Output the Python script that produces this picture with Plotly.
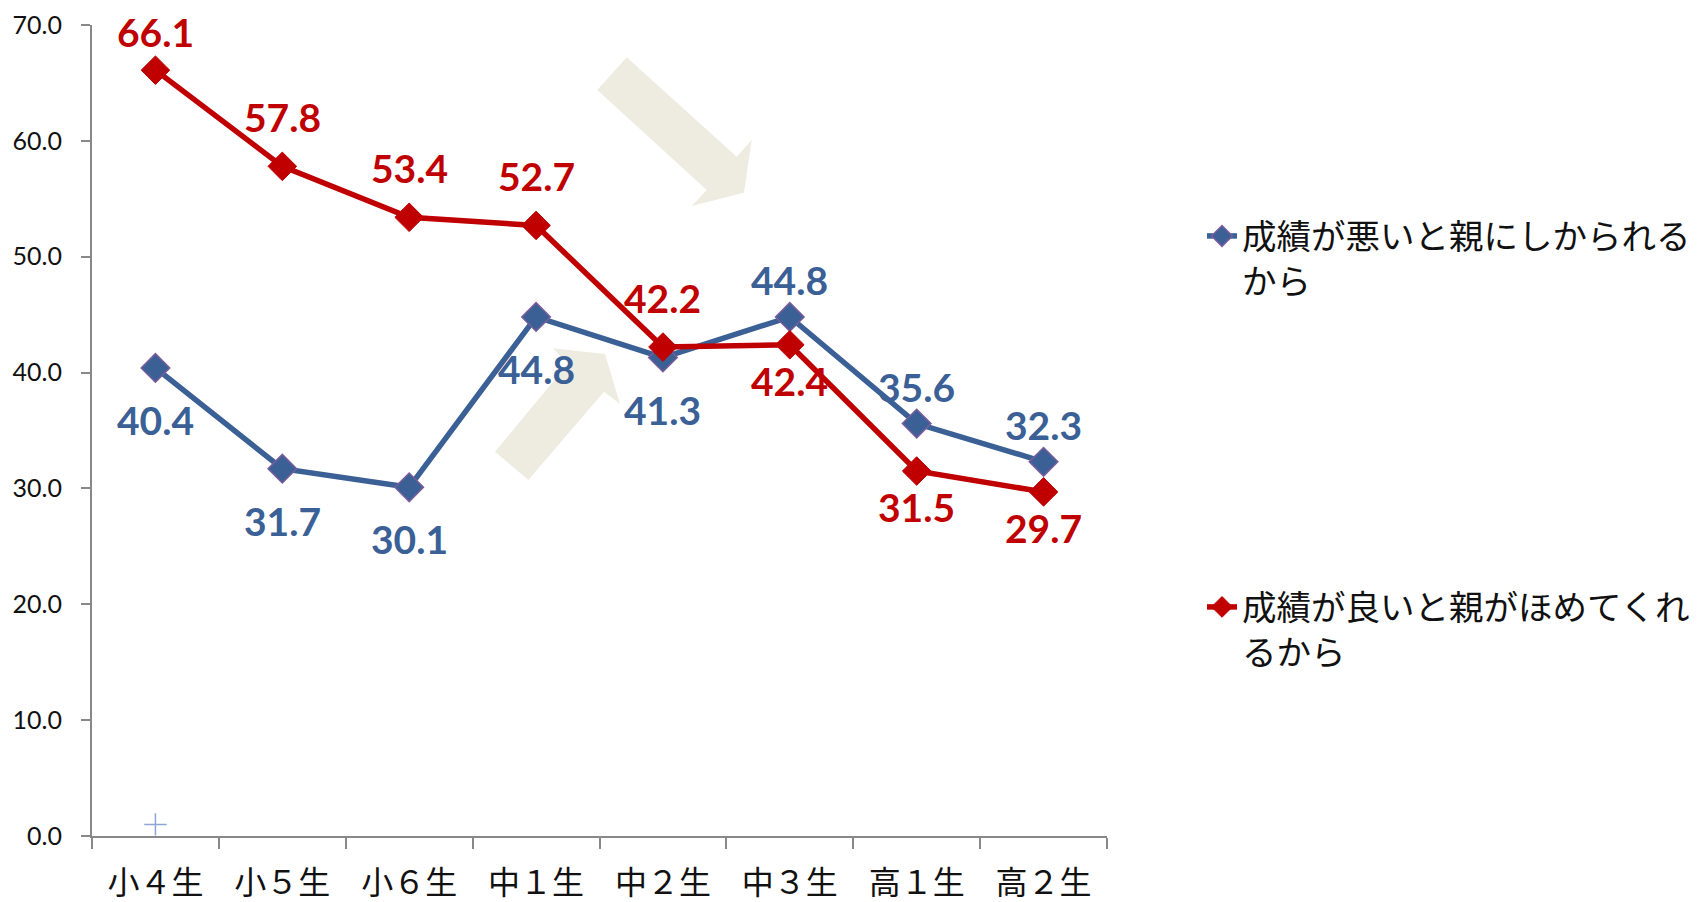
import plotly.graph_objects as go

categories = ["小４生", "小５生", "小６生", "中１生", "中２生", "中３生", "高１生", "高２生"]
scold = [40.4, 31.7, 30.1, 44.8, 41.3, 44.8, 35.6, 32.3]
praise = [66.1, 57.8, 53.4, 52.7, 42.2, 42.4, 31.5, 29.7]
stray_cat = ["小４生"]
stray_val = [1.0]

name_scold = "成績が悪いと親にしかられる<br>から"
name_praise = "成績が良いと親がほめてくれ<br>るから"

BLUE = "#3A6096"
RED = "#C00000"
BEIGE = "#EEECE1"

# page is offset by the default 8px body margin
OFF = 8
W, H = 1698 - OFF, 902 - OFF
# plot area in page pixels
L, R, T, B = 92, 1107, 25, 836

# label vertical offsets (style)
blue_shift = [-52, -52, -52, -52, -52, 37, 37, 37]
red_shift = [38, 49, 49, 49, 49, -36, -36, -36]

fig = go.Figure()
fig.add_trace(go.Scatter(
    x=categories, y=scold, mode="lines+markers", name=name_scold, legend="legend",
    line=dict(color=BLUE, width=5.5),
    marker=dict(symbol="diamond", size=22, color=BLUE, line=dict(color="#7A5C9C", width=1.5)),
))
fig.add_trace(go.Scatter(
    x=categories, y=praise, mode="lines+markers", name=name_praise, legend="legend2",
    line=dict(color=RED, width=5.5),
    marker=dict(symbol="diamond", size=22, color=RED, line=dict(color=RED, width=1)),
))
fig.add_trace(go.Scatter(
    x=stray_cat, y=stray_val, mode="markers", showlegend=False,
    marker=dict(symbol="cross-thin", size=16, line=dict(color="#8EA6D6", width=1.5)),
))

# data labels
lab_font = dict(family="Lato, 'Open Sans', sans-serif", size=39)
for c, v, s in zip(categories, scold, blue_shift):
    fig.add_annotation(x=c, y=v, text=f"<b>{v:.1f}</b>", showarrow=False, yshift=s,
                       font=dict(color=BLUE, **lab_font))
for c, v, s in zip(categories, praise, red_shift):
    fig.add_annotation(x=c, y=v, text=f"<b>{v:.1f}</b>", showarrow=False, yshift=s,
                       font=dict(color=RED, **lab_font))


def ppath(pts):
    s = ""
    for i, (px, py) in enumerate(pts):
        x = (px - L) / (R - L)
        y = (B - py) / (B - T)
        s += ("M" if i == 0 else "L") + f"{x:.5f},{y:.5f} "
    return s + "Z"

arrow1 = [(597.3, 90), (626.7, 57.3), (736.7, 156.7), (751.7, 140), (744, 192.7), (691.7, 206), (706.7, 190)]
arrow2 = [(495, 451.7), (528.3, 480), (604, 391.7), (620, 404), (605, 354), (552.7, 348.3), (568.3, 363.3)]
for a in (arrow1, arrow2):
    fig.add_shape(type="path", path=ppath(a), xref="paper", yref="paper",
                  fillcolor=BEIGE, line=dict(width=0), layer="above")

leg_font = dict(family="Noto Sans CJK JP", size=34.5, color="#111111")
fig.update_layout(
    width=W, height=H, autosize=False,
    margin=dict(l=L - OFF, r=W - (R - OFF), t=T - OFF, b=H - (B - OFF), autoexpand=False),
    paper_bgcolor="white", plot_bgcolor="white",
    showlegend=True,
    legend=dict(
        xref="container", yref="container", x=(1202 - OFF) / W, y=1 - (207 - OFF) / H,
        xanchor="left", yanchor="top", valign="top",
        font=leg_font, bgcolor="rgba(0,0,0,0)",
    ),
    legend2=dict(
        xref="container", yref="container", x=(1202 - OFF) / W, y=1 - (578 - OFF) / H,
        xanchor="left", yanchor="top", valign="top",
        font=leg_font, bgcolor="rgba(0,0,0,0)",
    ),
    xaxis=dict(
        type="category", range=[-0.5, 7.5], showgrid=False, automargin=False,
        showline=True, linecolor="#888888", linewidth=2,
        ticks="outside", tickson="boundaries", ticklen=11, tickcolor="#888888", tickwidth=2,
        tickfont=dict(family="Noto Sans CJK JP", size=32, color="#111111"),
        ticklabelstandoff=18,
    ),
    yaxis=dict(
        range=[0, 70], dtick=10, tickformat=".1f", showgrid=False, zeroline=False, automargin=False,
        showline=True, linecolor="#888888", linewidth=2,
        ticks="outside", ticklen=9, tickcolor="#888888", tickwidth=2,
        tickfont=dict(family="Lato, 'Open Sans', sans-serif", size=25, color="#111111"),
        ticklabelstandoff=14,
    ),
)

fig.write_html("out.html")
